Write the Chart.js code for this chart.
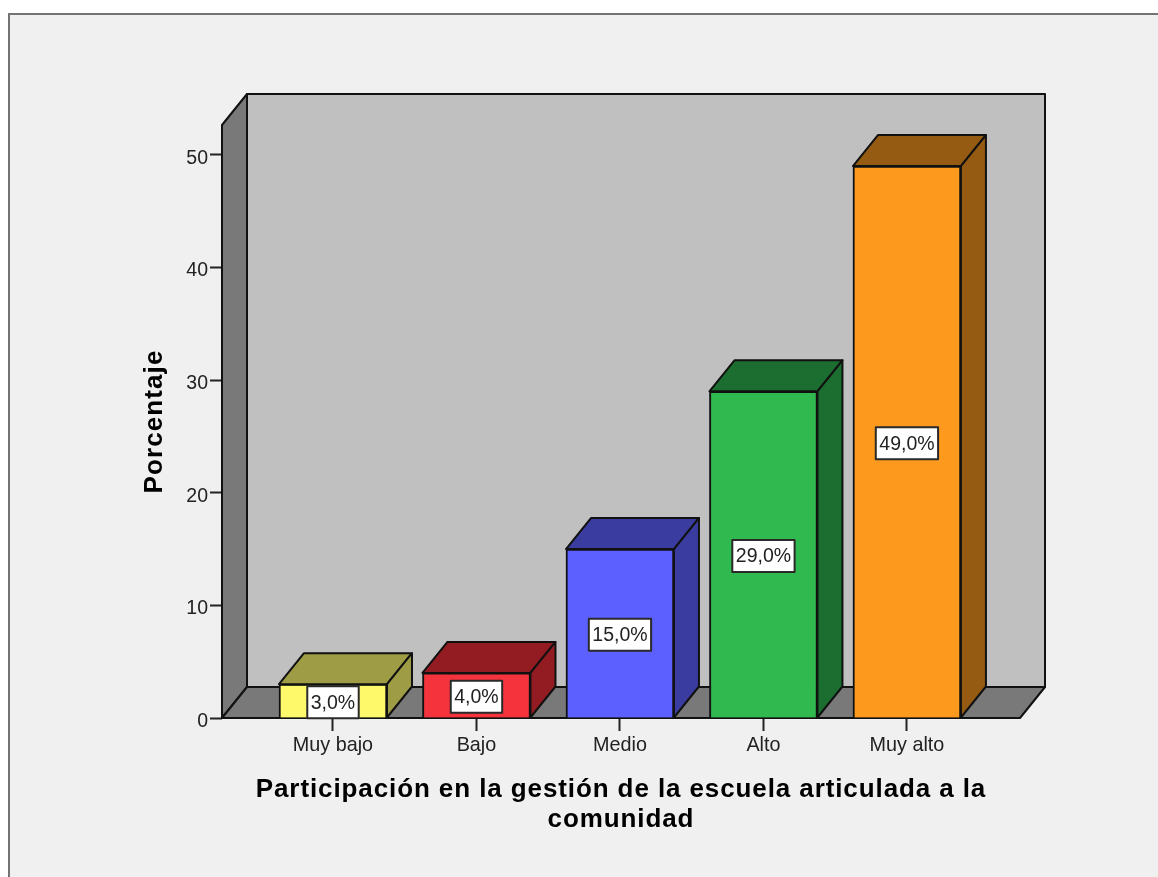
<!DOCTYPE html>
<html lang="es">
<head>
<meta charset="utf-8">
<title>Participación</title>
<script src="https://cdn.jsdelivr.net/npm/chart.js@4"></script>
<style>
  html, body { margin: 0; padding: 0; background: #fff; overflow: hidden; width: 1158px; height: 877px; }
  #frame { position: absolute; left: 8px; top: 13px; width: 1160px; height: 880px; background: #f0f0f0; border: 2px solid #747474; }
  #chartParticipacion { position: absolute; left: 0; top: 0; }
</style>
</head>
<body>
<div id="frame"></div>
<canvas id="chartParticipacion" width="1158" height="877"></canvas>
<script>
// Datos
const categories = ['Muy bajo', 'Bajo', 'Medio', 'Alto', 'Muy alto'];
const percentages = [3, 4, 15, 29, 49];
const yTickValues = [0, 10, 20, 30, 40, 50];
const xTitle = ['Participación en la gestión de la escuela articulada a la', 'comunidad'];
const yTitle = 'Porcentaje';

const frontColors = ['#fdf96a', '#f5333d', '#5c60ff', '#2fb94e', '#fd9a1e'];
const darkColors = ['#9f9c46', '#921c22', '#3a3c9f', '#1b6e2f', '#965b12'];

// profundidad del efecto 3D
const depthX = 25;
const depthY = 31;
const edge = '#111';

function poly(ctx, points, fill) {
  ctx.beginPath();
  ctx.moveTo(points[0][0], points[0][1]);
  points.slice(1).forEach(function(p) { ctx.lineTo(p[0], p[1]); });
  ctx.closePath();
  ctx.fillStyle = fill;
  ctx.fill();
  ctx.stroke();
}

// Los titulos del original tienen las letras mas separadas
function spaceTitle(scale, spacing) {
  const draw = scale.drawTitle;
  scale.drawTitle = function() {
    const ctx = scale.ctx;
    ctx.letterSpacing = spacing;
    draw.apply(scale, arguments);
    ctx.letterSpacing = '0px';
  };
}

const spacingPlugin = {
  id: 'spacing',
  afterLayout(chart) {
    if (chart.$spaced) return;
    chart.$spaced = true;
    spaceTitle(chart.scales.x, '0.9px');
    spaceTitle(chart.scales.y, '1.1px');
  }
};

// Paredes y piso de la caja
const wallsPlugin = {
  id: 'walls',
  beforeDatasetsDraw(chart) {
    const ctx = chart.ctx;
    const a = chart.chartArea;
    ctx.save();
    ctx.strokeStyle = edge;
    ctx.lineWidth = 2;
    ctx.lineJoin = 'round';
    poly(ctx, [[a.left + depthX, a.top - depthY], [a.right + depthX, a.top - depthY], [a.right + depthX, a.bottom - depthY], [a.left + depthX, a.bottom - depthY]], '#c0c0c0');
    poly(ctx, [[a.left, a.top], [a.left + depthX, a.top - depthY], [a.left + depthX, a.bottom - depthY], [a.left, a.bottom]], '#797979');
    poly(ctx, [[a.left, a.bottom], [a.left + depthX, a.bottom - depthY], [a.right + depthX, a.bottom - depthY], [a.right, a.bottom]], '#797979');
    ctx.restore();
  }
};

// Caras superior y lateral de cada barra, y etiquetas de valor
const barsPlugin = {
  id: 'bars3d',
  afterDatasetsDraw(chart) {
    const ctx = chart.ctx;
    const bars = chart.getDatasetMeta(0).data;
    ctx.save();
    ctx.strokeStyle = edge;
    ctx.lineWidth = 2;
    ctx.lineJoin = 'round';
    bars.forEach(function(bar, i) {
      const l = bar.x - bar.width / 2;
      const r = bar.x + bar.width / 2;
      poly(ctx, [[l, bar.y], [l + depthX, bar.y - depthY], [r + depthX, bar.y - depthY], [r, bar.y]], darkColors[i]);
      poly(ctx, [[r, bar.y], [r + depthX, bar.y - depthY], [r + depthX, bar.base - depthY], [r, bar.base]], darkColors[i]);
    });
    ctx.font = '19.5px "Liberation Sans"';
    ctx.textAlign = 'center';
    ctx.textBaseline = 'middle';
    bars.forEach(function(bar, i) {
      const text = percentages[i].toFixed(1).replace('.', ',') + '%';
      const w = ctx.measureText(text).width + 7;
      const h = 32;
      const cy = (bar.y + bar.base) / 2 + 1.5;
      ctx.fillStyle = '#fff';
      ctx.strokeStyle = '#2a2a2a';
      ctx.lineWidth = 2;
      ctx.fillRect(bar.x - w / 2, cy - h / 2, w, h);
      ctx.strokeRect(bar.x - w / 2, cy - h / 2, w, h);
      ctx.fillStyle = '#222';
      ctx.fillText(text, bar.x, cy + 1);
    });
    ctx.restore();
  }
};

new Chart(document.getElementById('chartParticipacion').getContext('2d'), {
  type: 'bar',
  data: {
    datasets: [{
      data: percentages.map(function(v, i) { return { x: i, y: v }; }),
      backgroundColor: frontColors,
      borderColor: edge,
      borderWidth: 2,
      barThickness: 108
    }]
  },
  options: {
    responsive: false,
    animation: false,
    layout: { padding: { top: 125, right: 138 } },
    plugins: { legend: { display: false }, tooltip: { enabled: false } },
    scales: {
      x: {
        type: 'linear',
        offset: false,
        min: -0.7735,
        max: 4.788,
        afterBuildTicks: function(scale) { scale.ticks = categories.map(function(c, i) { return { value: i }; }); },
        afterFit: function(scale) { scale.height = 159; },
        border: { display: false },
        grid: { offset: false, drawOnChartArea: false, tickLength: 13, tickColor: '#222', tickWidth: 2 },
        ticks: {
          color: '#222',
          padding: 3,
          maxRotation: 0,
          autoSkip: false,
          font: { family: '"Liberation Sans"', size: 19.8 },
          callback: function(value) { return categories[value]; }
        },
        title: {
          display: true,
          text: xTitle,
          color: '#000',
          font: { family: '"Liberation Sans"', size: 26, weight: 'bold', lineHeight: 1.15 },
          padding: { top: 0, bottom: 42.5 }
        }
      },
      y: {
        min: 0,
        max: 52.64,
        afterBuildTicks: function(scale) { scale.ticks = yTickValues.map(function(v) { return { value: v }; }); },
        afterFit: function(scale) { scale.width = 222; },
        border: { display: false },
        grid: { drawOnChartArea: false, tickLength: 12, tickColor: '#222', tickWidth: 2 },
        ticks: {
          color: '#222',
          padding: 2,
          labelOffset: 3.5,
          font: { family: '"Liberation Sans"', size: 19.5 }
        },
        title: {
          display: true,
          text: yTitle,
          color: '#000',
          font: { family: '"Liberation Sans"', size: 26, weight: 'bold' },
          padding: { top: 139, bottom: 0 }
        }
      }
    }
  },
  plugins: [spacingPlugin, wallsPlugin, barsPlugin]
});
</script>
</body>
</html>
